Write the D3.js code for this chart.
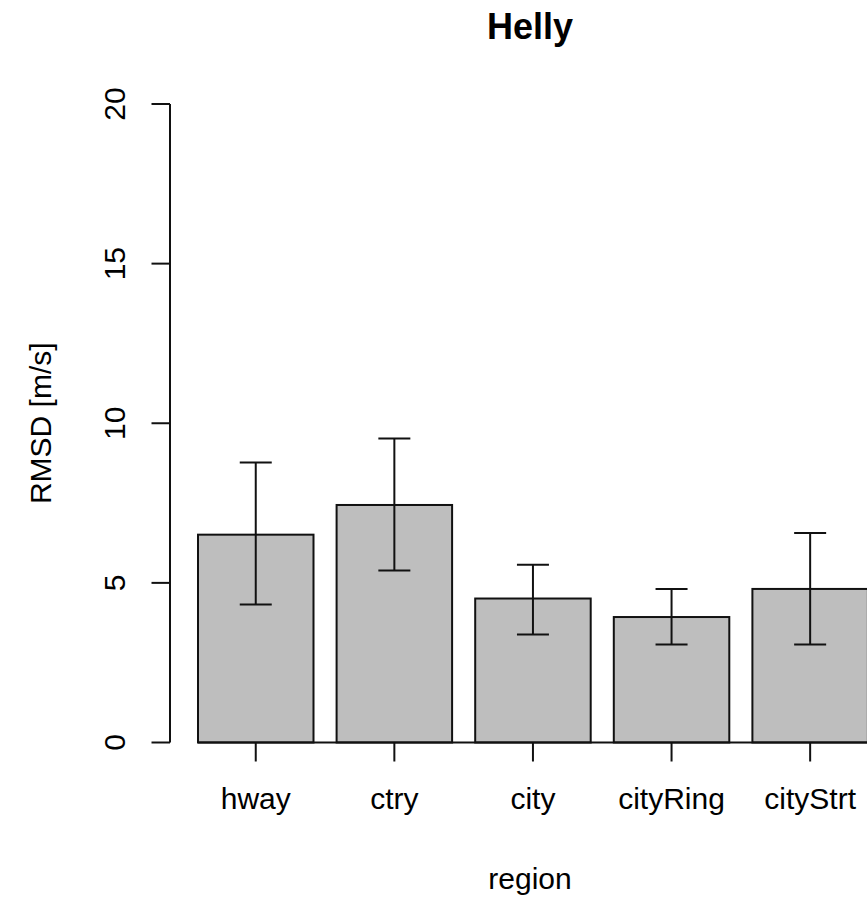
<!DOCTYPE html>
<html>
<head>
<meta charset="utf-8">
<script src="https://cdn.jsdelivr.net/npm/d3@7/dist/d3.min.js"></script>
<style>
  html, body { margin: 0; padding: 0; background: #ffffff; }
  svg { display: block; }
  text { font-family: "Liberation Sans", Arial, sans-serif; fill: #000; }
</style>
</head>
<body>
<svg id="chart" width="867" height="900"></svg>
<script>
// Mean RMSD per region, with the ends of each error bar
const regions = ["hway", "ctry", "city", "cityRing", "cityStrt"];
const rmsd    = [6.51, 7.44, 4.51, 3.93, 4.81];
const upper   = [8.77, 9.52, 5.57, 4.81, 6.56];
const lower   = [4.32, 5.39, 3.38, 3.07, 3.07];
const yTicks  = [0, 5, 10, 15, 20];

const titleText = "Helly";
const xTitle = "region";
const yTitle = "RMSD [m/s]";

const svg = d3.select("#chart");
const ink = "#111";
const lw = 2;

// Scales: bars of width 1 separated by 0.2 spaces
const x = d3.scaleBand()
  .domain(regions)
  .range([174.9, 891])
  .paddingInner(1 / 6)
  .paddingOuter(1 / 6);

const y = d3.scaleLinear().domain([0, 20]).range([742.5, 104]);

// Bars
svg.append("g")
  .selectAll("rect")
  .data(regions)
  .join("rect")
  .attr("x", d => x(d))
  .attr("y", (d, i) => y(rmsd[i]))
  .attr("width", x.bandwidth())
  .attr("height", (d, i) => y(0) - y(rmsd[i]))
  .attr("fill", "#bebebe")
  .attr("stroke", ink)
  .attr("stroke-width", lw);

// Baseline along zero
svg.append("line")
  .attr("x1", x(regions[0])).attr("x2", 900)
  .attr("y1", y(0)).attr("y2", y(0))
  .attr("stroke", ink).attr("stroke-width", lw);

// Error bars
const eb = svg.append("g").attr("stroke", ink).attr("stroke-width", lw).attr("fill", "none");
regions.forEach((r, i) => {
  const cx = x(r) + x.bandwidth() / 2;
  eb.append("line").attr("x1", cx).attr("x2", cx).attr("y1", y(upper[i])).attr("y2", y(lower[i]));
  eb.append("line").attr("x1", cx - 16).attr("x2", cx + 16).attr("y1", y(upper[i])).attr("y2", y(upper[i]));
  eb.append("line").attr("x1", cx - 16).attr("x2", cx + 16).attr("y1", y(lower[i])).attr("y2", y(lower[i]));
});

// Category ticks and labels
const xg = svg.append("g");
regions.forEach(r => {
  const cx = x(r) + x.bandwidth() / 2;
  xg.append("line").attr("x1", cx).attr("x2", cx).attr("y1", y(0)).attr("y2", y(0) + 19)
    .attr("stroke", ink).attr("stroke-width", lw);
  xg.append("text").attr("x", cx).attr("y", 809)
    .attr("text-anchor", "middle").attr("font-size", "30px").text(r);
});

// Y axis
const yg = svg.append("g");
yg.append("line").attr("x1", 170).attr("x2", 170).attr("y1", y(20)).attr("y2", y(0))
  .attr("stroke", ink).attr("stroke-width", lw);
yTicks.forEach(t => {
  yg.append("line").attr("x1", 151.5).attr("x2", 170).attr("y1", y(t)).attr("y2", y(t))
    .attr("stroke", ink).attr("stroke-width", lw);
  yg.append("text")
    .attr("transform", `translate(125,${y(t)}) rotate(-90)`)
    .attr("text-anchor", "middle").attr("font-size", "30px").text(t);
});

// Titles
svg.append("text").attr("x", 530).attr("y", 39)
  .attr("text-anchor", "middle").attr("font-size", "36px").attr("font-weight", "bold")
  .text(titleText);
svg.append("text").attr("x", 530).attr("y", 889)
  .attr("text-anchor", "middle").attr("font-size", "30px").text(xTitle);
svg.append("text")
  .attr("transform", `translate(51,${(y(0) + y(20)) / 2}) rotate(-90)`)
  .attr("text-anchor", "middle").attr("font-size", "30px").text(yTitle);
</script>
</body>
</html>
